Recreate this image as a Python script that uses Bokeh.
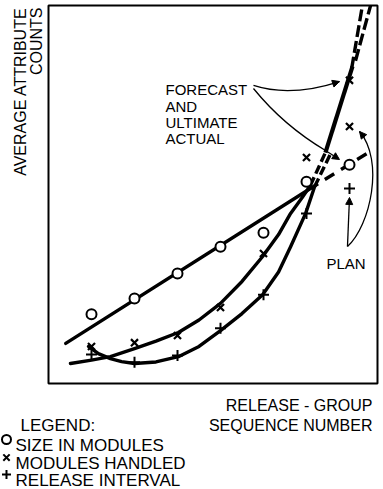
import numpy as np
from bokeh.plotting import figure
from bokeh.models import Arrow, NormalHead
from bokeh.core.properties import value
from bokeh.embed import file_html
from bokeh.resources import INLINE

# ---------------- data ----------------
groups = [1, 2, 3, 4, 5, 6]                       # release-group sequence number
size_in_modules = [18.3, 22.5, 29.1, 36.2, 39.9, 53.4]
modules_handled = [9.8, 10.8, 12.7, 20.1, 34.4, 59.8]
release_interval = [7.7, 5.6, 7.4, 14.6, 23.5, 45.0]

plan_group = [7]
plan_size = [57.9]
plan_handled = [68.0]
plan_interval = [51.6]
forecast_group = [7]
forecast_handled = [80.2]

# hand-fitted trend curves
size_fit_x = [0.40, 6.09]
size_fit_y = [10.6, 51.6]
size_plan_x = [6.09, 7.40]
size_plan_y = [51.6, 60.8]
handled_fit_x = [0.51, 1.0, 1.44, 2.0, 2.5, 3.02, 3.5, 4.0, 4.5, 4.98, 5.35, 5.63, 5.9, 6.09]
handled_fit_y = [5.3, 6.2, 7.1, 9.2, 11.2, 13.5, 16.8, 21.2, 27.0, 33.6, 39.4, 45.0, 49.2, 52.4]
interval_fit_x = [0.93, 1.16, 1.44, 1.7, 2.0, 2.5, 3.02, 3.5, 4.0, 4.5, 4.98, 5.35, 5.63, 5.98, 6.19]
interval_fit_y = [9.8, 7.9, 6.6, 5.8, 5.3, 5.7, 7.1, 9.8, 14.0, 18.5, 23.5, 29.5, 36.2, 45.0, 52.1]
handled_ext_x = [6.09, 6.44]
handled_ext_y = [52.4, 61.1]
interval_ext_x = [6.19, 6.56]
interval_ext_y = [52.1, 60.8]
forecast_x = [6.44, 7.07]
forecast_y = [61.1, 83.9]
handled_up_x = [7.05, 7.30]
handled_up_y = [83.3, 100.0]
interval_up_x = [7.14, 7.49]
interval_up_y = [85.4, 100.0]

# texts
annot_lines = ["FORECAST", "AND", "ULTIMATE", "ACTUAL"]
legend_title = "LEGEND:"
legend_labels = ["SIZE IN MODULES", "MODULES HANDLED", "RELEASE INTERVAL"]
legend_markers = ["circle", "x", "cross"]
x_title = ["RELEASE - GROUP", "SEQUENCE NUMBER"]
y_title = ["AVERAGE ATTRIBUTE", "COUNTS"]

FONT = value("Liberation Sans")
X_MAX = 7.651
Y_MAX = 100.0

p = figure(width=383, height=489, x_range=(-1.1163, 7.7907), y_range=(-28.04, 101.32),
           output_backend="svg", toolbar_location=None, min_border=0,
           x_axis_location=None, y_axis_location=None)
p.grid.visible = False
p.outline_line_color = None
p.background_fill_color = "white"
p.border_fill_color = "white"

# axes box
p.quad(left=[0], right=[X_MAX], bottom=[0], top=[Y_MAX], fill_color=None,
       line_color="black", line_width=2)

LW = 3.4
p.line(size_fit_x, size_fit_y, line_color="black", line_width=LW, line_cap="round")
p.line(size_plan_x, size_plan_y, line_color="black", line_width=LW, line_dash="11 8",
       line_dash_offset=2)
p.line(handled_fit_x, handled_fit_y, line_color="black", line_width=LW, line_join="round",
       line_cap="round")
p.line(interval_fit_x, interval_fit_y, line_color="black", line_width=LW, line_join="round",
       line_cap="round")
p.line(handled_ext_x, handled_ext_y, line_color="black", line_width=LW, line_dash="9 4")
p.line(interval_ext_x, interval_ext_y, line_color="black", line_width=LW, line_dash="9 4")
p.line(forecast_x, forecast_y, line_color="black", line_width=4.2)
p.line(handled_up_x, handled_up_y, line_color="black", line_width=LW, line_dash="12 4")
p.line(interval_up_x, interval_up_y, line_color="black", line_width=LW, line_dash="12 4")

# markers
p.scatter(groups, size_in_modules, marker="circle", size=10, fill_color="white",
          line_color="black", line_width=2)
p.scatter(groups, modules_handled, marker="x", size=10, line_color="black", line_width=2.2)
p.scatter(groups, release_interval, marker="cross", size=11, line_color="black", line_width=2)
p.scatter(plan_group, plan_size, marker="circle", size=10, fill_color="white",
          line_color="black", line_width=2)
p.scatter(plan_group, plan_handled, marker="x", size=10, line_color="black", line_width=2.2)
p.scatter(plan_group, plan_interval, marker="cross", size=11, line_color="black", line_width=2)
p.scatter(forecast_group, forecast_handled, marker="x", size=10, line_color="black", line_width=2.2)

# arrows
ALW = 1.3
head = dict(size=7, fill_color="black", line_color="black", line_width=1)
p.quadratic(x0=[4.767], y0=[78.84], cx=[5.628], cy=[75.66], x1=[6.767], y1=[79.89],
            line_color="black", line_width=ALW)
p.add_layout(Arrow(end=NormalHead(**head), x_start=6.628, y_start=79.37, x_end=6.767, y_end=79.89,
                   line_color="black", line_width=ALW))
p.quadratic(x0=[4.767], y0=[78.04], cx=[5.465], cy=[68.25], x1=[6.442], y1=[61.64],
            line_color="black", line_width=ALW)
p.add_layout(Arrow(end=NormalHead(**head), x_start=6.442, y_start=61.64, x_end=6.767, y_end=59.26,
                   line_color="black", line_width=ALW))
p.add_layout(Arrow(end=NormalHead(**head), x_start=6.953, y_start=36.24, x_end=7.0, y_end=49.21,
                   line_color="black", line_width=ALW))
p.bezier(x0=[6.953], y0=[36.24], cx0=[7.488], cy0=[41.80], cx1=[7.814], cy1=[58.99],
         x1=[7.233], y1=[66.67], line_color="black", line_width=ALW)
p.add_layout(Arrow(end=NormalHead(**head), x_start=7.349, y_start=65.08, x_end=7.233, y_end=66.67,
                   line_color="black", line_width=ALW))

# texts
p.text(x=[2.721] * 4, y=[77.8, 73.3, 69.0, 64.8], text=annot_lines, text_font=FONT,
       text_font_size="15px", text_align="left", text_baseline="alphabetic", text_color="black")
p.text(x=[6.465], y=[31.7], text=["PLAN"], text_font=FONT, text_font_size="15px",
       text_align="left", text_baseline="alphabetic", text_color="black")
p.text(x=[7.535, 7.535], y=[-5.82, -11.11], text=x_title, text_font=FONT, text_font_size="16px",
       text_align="right", text_baseline="alphabetic", text_color="black")
p.text(x=[-0.651, -0.279], y=[99.47, 99.47], text=y_title, angle=np.pi / 2, text_font=FONT,
       text_font_size="16px", text_align="right", text_baseline="alphabetic", text_color="black")
p.text(x=[-0.651], y=[-11.11], text=[legend_title], text_font=FONT, text_font_size="17px",
       text_align="left", text_baseline="alphabetic", text_color="black")
p.text(x=[-0.767] * 3, y=[-16.40, -21.16, -25.66], text=legend_labels, text_font=FONT,
       text_font_size="17px", text_align="left", text_baseline="alphabetic", text_color="black")
p.scatter(x=[-0.977] * 3, y=[-14.81, -19.58, -24.07], marker=legend_markers, size=9,
          fill_color="white", line_color="black", line_width=2)

open("out.html", "w").write(file_html(p, INLINE))
